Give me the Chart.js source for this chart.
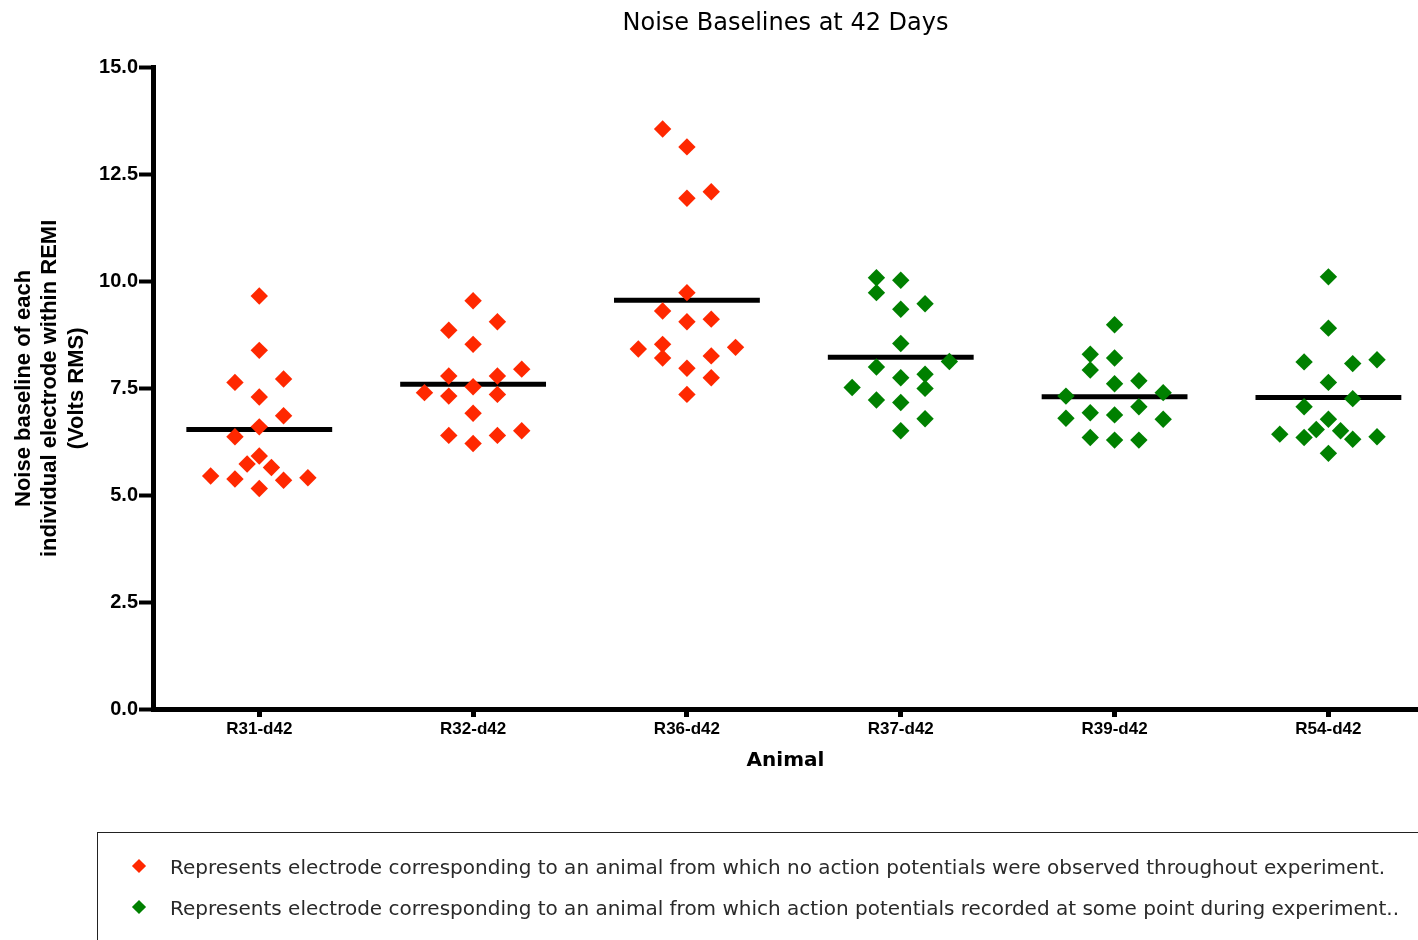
<!DOCTYPE html>
<html>
<head>
<meta charset="utf-8">
<title>Noise Baselines at 42 Days</title>
<script src="https://cdn.jsdelivr.net/npm/chart.js@4"></script>
<style>
  body { margin: 0; background: #fff; }
  #wrap { position: relative; width: 1418px; height: 940px; overflow: hidden; }
  #legend {
    position: absolute; left: 97px; top: 832px; width: 1400px; height: 200px;
    border: 1px solid #222; font-family: "DejaVu Sans"; font-size: 20px; color: #2a2a2a;
  }
  .row { position: absolute; left: 72px; height: 24px; line-height: 24px; white-space: nowrap; }
  .mark { position: absolute; left: 36px; width: 10px; height: 10px; transform: rotate(45deg); }
</style>
</head>
<body>
<div id="wrap">
  <canvas id="chart"></canvas>
  <div id="legend"></div>
</div>
<script>
const chartTitle = "Noise Baselines at 42 Days";
const xTitle = "Animal";
const yTitle = ["Noise baseline of each", "individual electrode within REMI", "(Volts RMS)"];
const animals = ["R31-d42", "R32-d42", "R36-d42", "R37-d42", "R39-d42", "R54-d42"];
const yTicks = [0, 2.5, 5, 7.5, 10, 12.5, 15];

// animals with no action potentials (red), the rest are green
const silentAnimals = ["R31-d42", "R32-d42", "R36-d42"];
const legendText = [
  "Represents electrode corresponding to an animal from which no action potentials were observed throughout experiment.",
  "Represents electrode corresponding to an animal from which action potentials recorded at some point during experiment..",
];

// noise baseline per electrode (Volts RMS)
const r31 = [9.66, 8.39, 7.64, 7.72, 7.30, 6.86, 6.60, 6.37, 5.92, 5.73, 5.65, 5.45, 5.38, 5.35, 5.41, 5.16];
const r32 = [9.55, 9.06, 8.86, 8.53, 7.95, 7.79, 7.79, 7.40, 7.32, 7.54, 7.36, 6.92, 6.40, 6.40, 6.51, 6.21];
const r36 = [13.57, 13.15, 12.10, 11.95, 9.74, 9.31, 9.06, 9.12, 8.42, 8.53, 8.21, 8.26, 8.46, 7.97, 7.75, 7.36];
const r37 = [10.09, 10.03, 9.74, 9.35, 9.48, 8.55, 8.00, 8.13, 7.75, 7.83, 7.50, 7.52, 7.23, 7.17, 6.79, 6.51];
const r39 = [8.99, 8.30, 8.21, 7.93, 7.61, 7.68, 7.32, 7.40, 7.07, 6.80, 6.93, 6.88, 6.78, 6.35, 6.29, 6.29];
const r54 = [10.11, 8.91, 8.12, 8.08, 8.17, 7.64, 7.26, 7.07, 6.78, 6.54, 6.51, 6.43, 6.35, 6.31, 6.37, 5.98];

// scatter column slot of each point (0 = centre of the column)
const r31Slot = [0, 0, -1, 1, 0, 1, 0, -1, 0, -0.5, 0.5, -2, -1, 1, 2, 0];
const r32Slot = [0, 1, -1, 0, 2, -1, 1, -2, -1, 0, 1, 0, -1, 1, 2, 0];
const r36Slot = [-1, 0, 1, 0, 0, -1, 0, 1, -2, -1, -1, 1, 2, 0, 1, 0];
const r37Slot = [-1, 0, -1, 0, 1, 0, -1, 2, 0, 1, 1, -2, -1, 0, 1, 0];
const r39Slot = [0, -1, 0, -1, 0, 1, -2, 2, 1, -2, -1, 0, 2, -1, 0, 1];
const r54Slot = [0, 0, -1, 1, 2, 0, 1, -1, 0, -0.5, 0.5, -2, -1, 1, 2, 0];

const groups = [r31, r32, r36, r37, r39, r54];
const slots = [r31Slot, r32Slot, r36Slot, r37Slot, r39Slot, r54Slot];

const RED = "#ff2800";
const GREEN = "#008000";
const SLOT = 0.1137;
const HALF_BAR = 0.341;

let datasets = [];
groups.forEach((vals, i) => {
  const color = silentAnimals.includes(animals[i]) ? RED : GREEN;
  datasets.push({
    type: "scatter",
    data: vals.map((v, k) => ({ x: i + slots[i][k] * SLOT, y: v })),
    backgroundColor: color,
    borderColor: color,
    pointStyle: "rectRot",
    pointRadius: 8.7,
    pointBorderWidth: 0,
    order: 1,
  });
  // mean line
  const mean = vals.reduce((a, b) => a + b, 0) / vals.length;
  datasets.push({
    type: "line",
    data: [{ x: i - HALF_BAR, y: mean }, { x: i + HALF_BAR, y: mean }],
    borderColor: "#000",
    borderWidth: 5,
    pointRadius: 0,
    order: 2,
  });
});

const ctx = document.getElementById("chart");
new Chart(ctx, {
  type: "scatter",
  data: { datasets: datasets },
  options: {
    responsive: true,
    maintainAspectRatio: false,
    animation: false,
    events: [],
    layout: { autoPadding: false, padding: { left: 0, right: 0, top: 0, bottom: 141 } },
    plugins: {
      legend: { display: false },
      tooltip: { enabled: false },
      title: {
        display: true,
        text: chartTitle,
        fullSize: false,
        color: "#000",
        font: { family: "DejaVu Sans", size: 24, weight: "normal", lineHeight: 1.2 },
        padding: { top: 9, bottom: 30 },
      },
    },
    scales: {
      x: {
        type: "linear",
        min: -0.497,
        max: 5.419,
        afterBuildTicks: (s) => { s.ticks = animals.map((_, i) => ({ value: i })); },
        afterFit: (s) => { s.height = 90; },
        grid: { drawOnChartArea: false, drawTicks: true, tickLength: 8, tickWidth: 5, tickColor: "#000" },
        border: { display: true, color: "#000", width: 5 },
        ticks: {
          callback: (v, i) => animals[i],
          color: "#000",
          autoSkip: false,
          maxRotation: 0,
          padding: 2,
          font: { family: "Liberation Sans", weight: "bold", size: 17 },
        },
        title: {
          display: true,
          text: xTitle,
          color: "#000",
          font: { family: "DejaVu Sans", weight: "bold", size: 20 },
          padding: { top: 0, bottom: 26 },
        },
      },
      y: {
        min: 0,
        max: 15,
        afterBuildTicks: (s) => { s.ticks = yTicks.map((v) => ({ value: v })); },
        afterFit: (s) => { s.width = 153; },
        grid: { drawOnChartArea: false, drawTicks: true, tickLength: 14, tickWidth: 4, tickColor: "#000" },
        border: { display: true, color: "#000", width: 5 },
        ticks: {
          callback: (v) => v.toFixed(1),
          color: "#000",
          padding: 1,
          font: { family: "Liberation Sans", weight: "bold", size: 20 },
        },
        title: {
          display: true,
          text: yTitle,
          color: "#000",
          font: { family: "Liberation Sans", weight: "bold", size: 22, lineHeight: 1.2 },
          padding: { top: 10.5, bottom: 0 },
        },
      },
    },
  },
});

// legend box under the chart
const legendEl = document.getElementById("legend");
legendText.forEach((t, i) => {
  const color = i === 0 ? RED : GREEN;
  const mark = document.createElement("div");
  mark.className = "mark";
  mark.style.background = color;
  mark.style.top = (28 + i * 41) + "px";
  legendEl.appendChild(mark);
  const row = document.createElement("div");
  row.className = "row";
  row.style.top = (22 + i * 41) + "px";
  row.textContent = t;
  legendEl.appendChild(row);
});
</script>
</body>
</html>
